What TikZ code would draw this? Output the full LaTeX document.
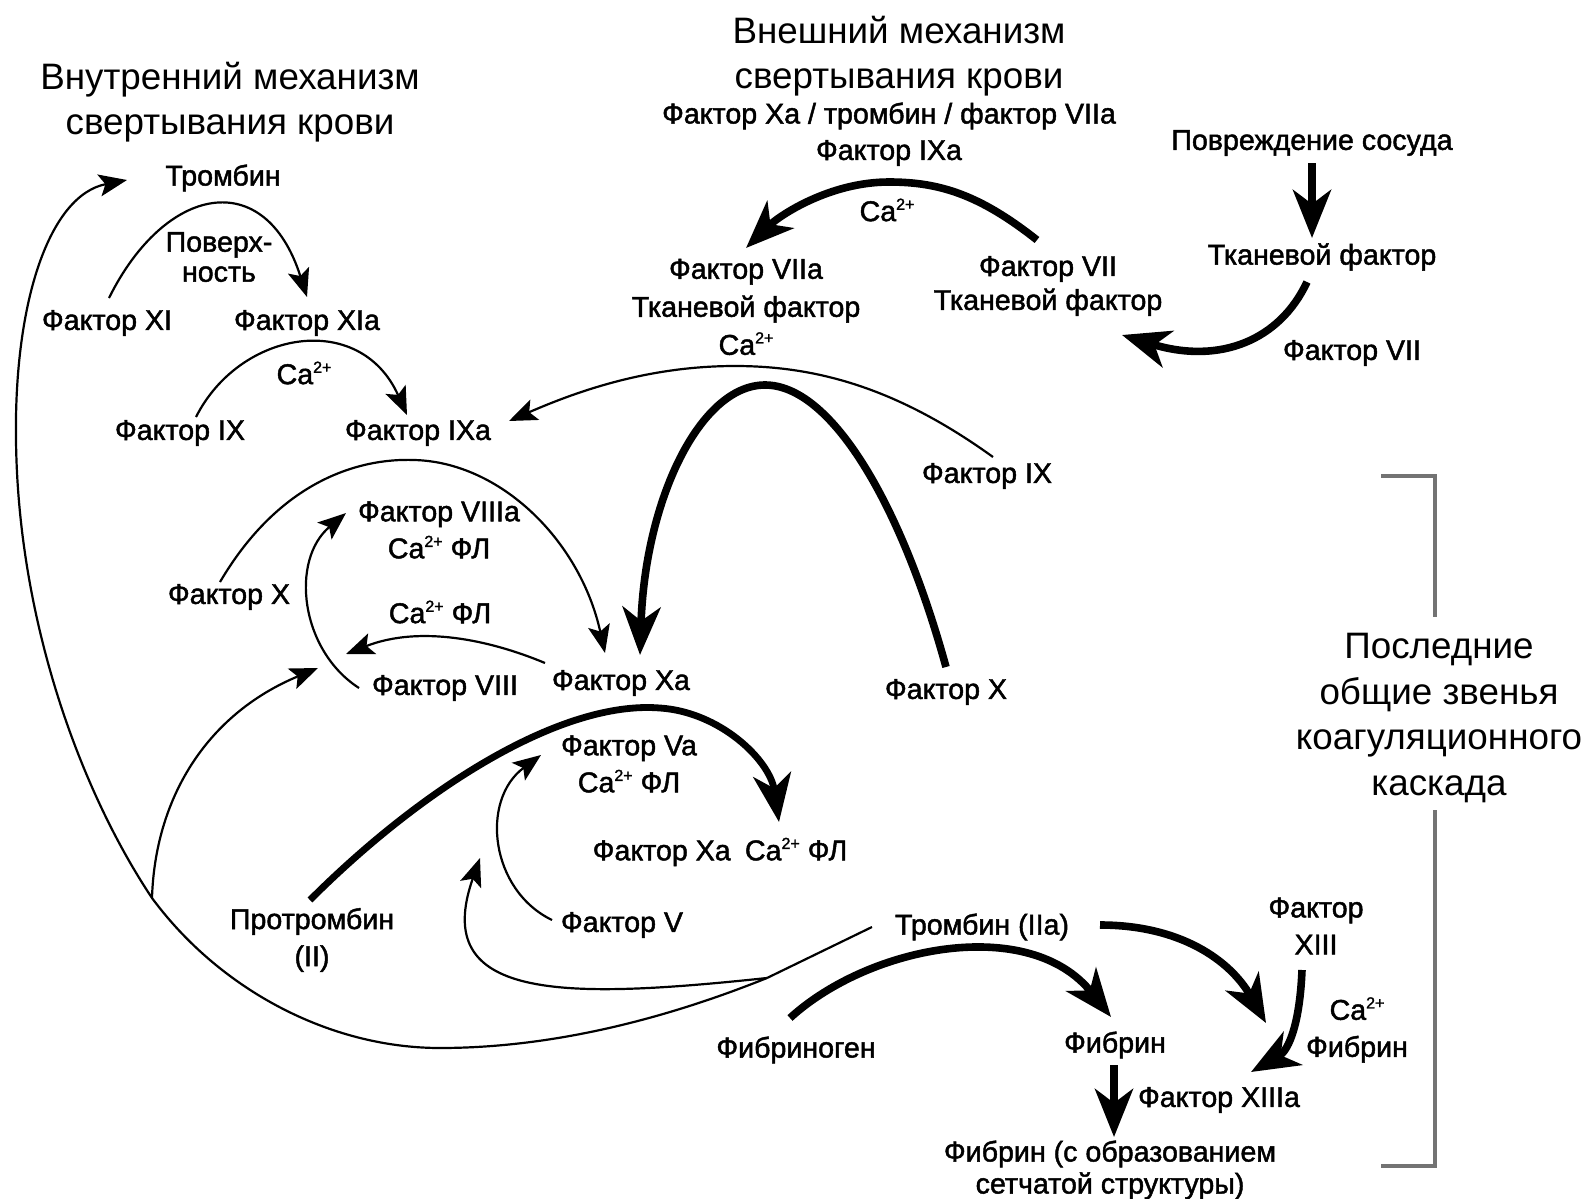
\documentclass[tikz,border=0pt]{standalone}
\usepackage{fontspec}
\setmainfont{Liberation Sans}
\newfontfamily\labelfont[FakeBold=1.6]{Liberation Sans}
\usetikzlibrary{arrows.meta}
% small raised charge for ion labels
\newcommand{\ion}[1]{\raisebox{0.75ex}{\fontsize{8}{8}\selectfont #1}}

\begin{document}
\begin{tikzpicture}[x=0.5pt,y=-0.5pt,
  lbl/.style={font=\fontsize{14.3}{18.5}\selectfont\labelfont, align=center, inner sep=0pt},
  ttl/.style={font=\fontsize{18.4}{22.5}\selectfont, align=center, inner sep=0pt},
  thin/.style={line width=1.1pt, -{Stealth[length=14pt,width=11pt,inset=3pt]}},
  plain/.style={line width=1.1pt},
  heavy/.style={line width=3.8pt, -{Stealth[length=24pt,width=19pt,inset=7pt]}},
  bracket/.style={line width=2pt, draw=black!55}
]
\useasboundingbox (0,0) rectangle (1587,1199);

% ---------- headings ----------
\node[ttl] (ttlint) at (230,102) {Внутренний механизм\\свертывания крови};
\node[ttl] (ttlext) at (899,56) {Внешний механизм\\свертывания крови};
\node[ttl, font=\fontsize{18.4}{23}\selectfont] (final) at (1439,718)
  {Последние\\общие звенья\\коагуляционного\\каскада};

% ---------- extrinsic pathway ----------
\node[lbl] (cof) at (889,116) {Фактор Xa / тромбин / фактор VIIa};
\node[lbl] (ixatop) at (889,153) {Фактор IXa};
\node[lbl] (cac) at (887,210) {Ca\ion{2+}};
\node[lbl, font=\fontsize{14.3}{19}\selectfont\labelfont] (viia) at (746,307)
  {Фактор VIIa\\Тканевой фактор\\Ca\ion{2+}};
\node[lbl, font=\fontsize{14.3}{17}\selectfont\labelfont] (vii) at (1048,286)
  {Фактор VII\\Тканевой фактор};
\node[lbl] (damage) at (1312,143) {Повреждение сосуда};
\node[lbl] (tf) at (1322,257) {Тканевой фактор};
\node[lbl] (viir) at (1352,353) {Фактор VII};
\node[lbl] (ixr) at (987,476) {Фактор IX};
\node[lbl] (xr) at (946,692) {Фактор X};

% ---------- intrinsic pathway ----------
\node[lbl] (thr) at (223,178) {Тромбин};
\node[lbl, font=\fontsize{14.3}{15}\selectfont\labelfont] (surf) at (219,257) {Поверх-\\ность};
\node[lbl] (xi) at (107,323) {Фактор XI};
\node[lbl] (xia) at (307,323) {Фактор XIa};
\node[lbl] (caix) at (304,373) {Ca\ion{2+}};
\node[lbl] (ix) at (180,433) {Фактор IX};
\node[lbl] (ixa) at (418,433) {Фактор IXa};
\node[lbl] (viiia) at (439,530) {Фактор VIIIa\\Ca\ion{2+} ФЛ};
\node[lbl] (xl) at (229,597) {Фактор X};
\node[lbl] (caf) at (440,612) {Ca\ion{2+} ФЛ};
\node[lbl] (viii) at (445,688) {Фактор VIII};
\node[lbl] (xa) at (621,683) {Фактор Xa};

% ---------- common pathway ----------
\node[lbl] (va) at (629,764) {Фактор Va\\Ca\ion{2+} ФЛ};
\node[lbl] (xacx) at (720,852) {Фактор Xa\enspace Ca\ion{2+} ФЛ};
\node[lbl] (pro) at (312,940) {Протромбин\\(II)};
\node[lbl] (fv) at (622,925) {Фактор V};
\node[lbl] (thr2) at (982,927) {Тромбин (IIa)};
\node[lbl] (xiii) at (1316,926) {Фактор\\XIII};
\node[lbl] (cafib) at (1357,1030) {Ca\ion{2+}\\Фибрин};
\node[lbl] (fbg) at (796,1050) {Фибриноген};
\node[lbl] (fib) at (1115,1045) {Фибрин};
\node[lbl] (xiiia) at (1219,1100) {Фактор XIIIa};
\node[lbl, font=\fontsize{14.3}{16}\selectfont\labelfont] (net) at (1110,1170)
  {Фибрин (с образованием\\сетчатой структуры)};

% ---------- connector ends ----------
\coordinate (a1) at (1312,163);  \coordinate (a2) at (1312,238);
\coordinate (b1) at (1307,282);  \coordinate (b2) at (1122,335);
\coordinate (c1) at (1037,240);  \coordinate (c2) at (746,248);
\coordinate (d1) at (993,457);   \coordinate (d2) at (509,421);
\coordinate (e1) at (946,667);   \coordinate (e2) at (640,655);
\coordinate (f1) at (109,298);   \coordinate (f2) at (307,297);
\coordinate (g1) at (196,417);   \coordinate (g2) at (407,415);
\coordinate (h1) at (220,582);   \coordinate (h2) at (605,653);
\coordinate (i1) at (359,688);   \coordinate (i2) at (346,513);
\coordinate (j1) at (545,663);   \coordinate (j2) at (346,654);
\coordinate (k1) at (310,900);   \coordinate (k2) at (779,822);
\coordinate (l1) at (552,920);   \coordinate (l2) at (541,755);
\coordinate (m0) at (872,927);   \coordinate (msplit) at (767,978);
\coordinate (m1) at (480,858);   \coordinate (mj) at (152,898);
\coordinate (m2) at (127,180);   \coordinate (m3) at (318,668);
\coordinate (n1) at (790,1018);  \coordinate (n2) at (1111,1017);
\coordinate (o1) at (1100,925);  \coordinate (o2) at (1266,1023);
\coordinate (p1) at (1302,970);  \coordinate (p2) at (1251,1072);
\coordinate (q1) at (1114,1065); \coordinate (q2) at (1114,1137);

% ---------- extrinsic arrows ----------
\draw[heavy] (a1) -- (a2);
\draw[heavy] (b1) .. controls (1280,340) and (1220,365) .. (b2);
\draw[heavy] (c1) .. controls (980,195) and (940,182) .. (889,182)
                  .. controls (830,182) and (780,215) .. (c2);
\draw[thin] (d1) .. controls (900,390) and (820,366) .. (735,366)
                 .. controls (650,366) and (580,390) .. (d2);
\draw[heavy] (e1) .. controls (900,500) and (830,385) .. (765,385)
                  .. controls (700,385) and (645,500) .. (e2);

% ---------- intrinsic arrows ----------
\draw[thin] (f1) .. controls (165,185) and (265,165) .. (f2);
\draw[thin] (g1) .. controls (240,330) and (360,310) .. (g2);
\draw[thin] (h1) .. controls (280,480) and (360,458) .. (414,460)
                 .. controls (500,462) and (580,540) .. (h2);
\draw[thin] (i1) .. controls (300,650) and (290,560) .. (i2);
\draw[thin] (j1) .. controls (490,640) and (420,625) .. (j2);

% ---------- common pathway arrows ----------
\draw[heavy, line width=3.4pt] (k1) .. controls (420,790) and (560,700) .. (660,708)
                  .. controls (720,712) and (770,760) .. (k2);
\draw[thin] (l1) .. controls (490,890) and (480,800) .. (l2);

% thrombin feedback loops
\draw[plain] (m0) -- (msplit);
\draw[thin] (msplit) .. controls (560,1000) and (430,1000) .. (m1);
\draw[thin] (msplit) .. controls (650,1025) and (540,1048) .. (440,1048)
                     .. controls (330,1048) and (220,990) .. (mj)
                     .. controls (80,790) and (18,620) .. (16,440)
                     .. controls (14,300) and (50,195) .. (m2);
\draw[thin] (mj) .. controls (155,800) and (205,715) .. (m3);

\draw[heavy] (n1) .. controls (870,945) and (1030,915) .. (n2);
\draw[heavy] (o1) .. controls (1180,925) and (1230,960) .. (o2);
\draw[heavy] (p1) .. controls (1300,1020) and (1290,1050) .. (p2);
\draw[heavy] (q1) -- (q2);

% ---------- bracket ----------
\coordinate (br1) at (1381,476); \coordinate (br2) at (1435,476);
\coordinate (br3) at (1435,617); \coordinate (br4) at (1435,810);
\coordinate (br5) at (1435,1166); \coordinate (br6) at (1381,1166);
\draw[bracket] (br1) -- (br2) -- (br3);
\draw[bracket] (br4) -- (br5) -- (br6);
\end{tikzpicture}
\end{document}
